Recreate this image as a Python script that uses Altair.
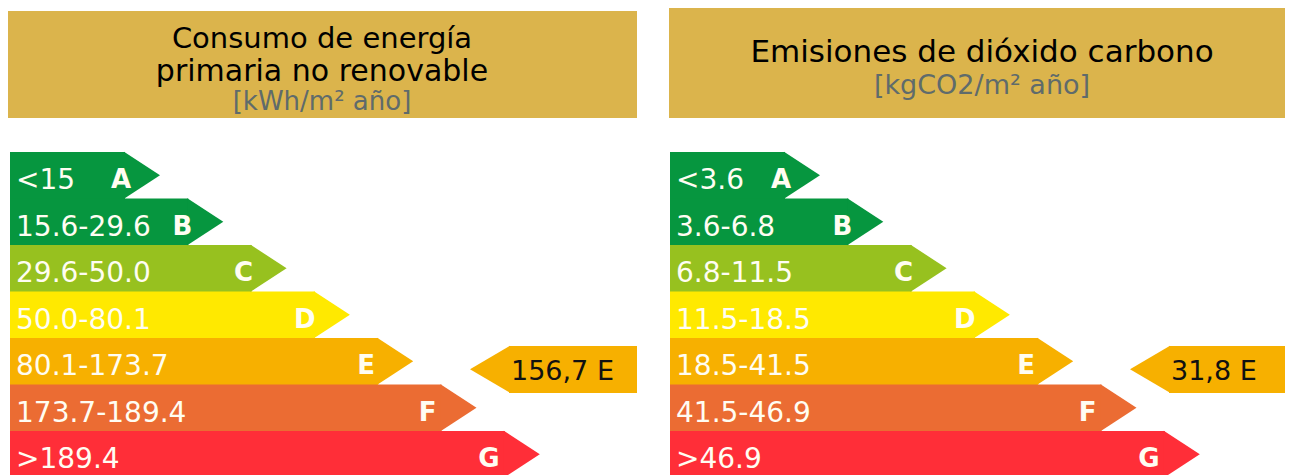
import altair as alt
import pandas as pd

# ---------------- data ----------------
classes = ["A", "B", "C", "D", "E", "F", "G"]
class_colors = ["#06963f", "#06963f", "#97c11f", "#ffe900", "#f7b000", "#eb6c33", "#ff2e38"]
energy_ranges = ["<15", "15.6-29.6", "29.6-50.0", "50.0-80.1", "80.1-173.7", "173.7-189.4", ">189.4"]
co2_ranges = ["<3.6", "3.6-6.8", "6.8-11.5", "11.5-18.5", "18.5-41.5", "41.5-46.9", ">46.9"]
panel_title_lines = [["Consumo de energía", "primaria no renovable"], ["Emisiones de dióxido carbono"]]
panel_units = ["[kWh/m² año]", "[kgCO2/m² año]"]
rating_values = ["156,7", "31,8"]
rating_classes = ["E", "E"]

FONT = "DejaVu Sans"
W, H = 1277, 467

rows = []
for p, ranges in enumerate([energy_ranges, co2_ranges]):
    for r, (c, col, rg) in enumerate(zip(classes, class_colors, ranges)):
        rows.append({"panel": p, "rank": r, "cls": c, "color": col, "label": rg})
df = pd.DataFrame(rows)

ind_rows = []
for p, (v, c) in enumerate(zip(rating_values, rating_classes)):
    ind_rows.append({"panel": p, "rank": classes.index(c), "text": f"{v} {c}",
                     "color": class_colors[classes.index(c)]})
df_ind = pd.DataFrame(ind_rows)

xs = alt.Scale(domain=[0, W], range=[0, W], nice=False, zero=False)
ys = alt.Scale(domain=[0, H], range=[0, H], nice=False, zero=False)

ROW0, ROWH = 144, 46.5

base = alt.Chart(df).transform_calculate(
    x0="datum.panel * 660 + 2",
    top=f"{ROW0} + datum.rank * {ROWH}",
    bot=f"{ROW0} + (datum.rank + 1) * {ROWH} + 0.5",
    mid=f"{ROW0} + (datum.rank + 0.5) * {ROWH}",
    xend="datum.panel * 660 + 2 + 115 + datum.rank * 63.3",
    lx="datum.panel * 660 + 2 + 111 + datum.rank * 61.3",
    tx="datum.panel * 660 + 2 + 6",
)

bars = base.mark_rect().encode(
    x=alt.X("x0:Q", scale=xs, axis=None),
    x2="xend:Q",
    y=alt.Y("top:Q", scale=ys, axis=None),
    y2="bot:Q",
    color=alt.Color("color:N", scale=None),
)

tips = base.mark_point(
    shape="M-1,-23.5L35,0L-1,23.5Z", size=4, filled=True, opacity=1, strokeWidth=0
).encode(
    x=alt.X("xend:Q", scale=xs, axis=None),
    y=alt.Y("mid:Q", scale=ys, axis=None),
    color=alt.Color("color:N", scale=None),
)

range_text = base.mark_text(
    align="left", baseline="alphabetic", font=FONT, fontSize=28, color="#fffdf2", dy=14
).encode(
    x=alt.X("tx:Q", scale=xs, axis=None),
    y=alt.Y("mid:Q", scale=ys, axis=None),
    text="label:N",
)

letter_text = base.mark_text(
    align="center", baseline="alphabetic", font=FONT, fontSize=26, fontWeight="bold",
    color="#fffdf2", dy=13
).encode(
    x=alt.X("lx:Q", scale=xs, axis=None),
    y=alt.Y("mid:Q", scale=ys, axis=None),
    text="cls:N",
)

ind_base = alt.Chart(df_ind).transform_calculate(
    rl="datum.panel * 660 + 2 + 499",
    rr="datum.panel == 0 ? 629 : 1300",
    tip="datum.panel * 660 + 2 + 499",
    top=f"{ROW0} + datum.rank * {ROWH} + 8",
    bot=f"{ROW0} + (datum.rank + 1) * {ROWH} + 8.5",
    mid=f"{ROW0} + (datum.rank + 0.5) * {ROWH} + 8",
)

ind_rect = ind_base.mark_rect().encode(
    x=alt.X("rl:Q", scale=xs, axis=None),
    x2="rr:Q",
    y=alt.Y("top:Q", scale=ys, axis=None),
    y2="bot:Q",
    color=alt.Color("color:N", scale=None),
)
ind_tip = ind_base.mark_point(
    shape="M1,-23.5L-39,0L1,23.5Z", size=4, filled=True, opacity=1, strokeWidth=0
).encode(
    x=alt.X("tip:Q", scale=xs, axis=None),
    y=alt.Y("mid:Q", scale=ys, axis=None),
    color=alt.Color("color:N", scale=None),
)
ind_text = ind_base.mark_text(
    align="left", baseline="alphabetic", font=FONT, fontSize=27, color="#111111", dx=2, dy=11
).encode(
    x=alt.X("rl:Q", scale=xs, axis=None),
    y=alt.Y("mid:Q", scale=ys, axis=None),
    text="text:N",
)

# ---------------- headers ----------------
HDR = "#dbb44c"
dummy = pd.DataFrame({"k": [0]})
hdr_left = alt.Chart(dummy).mark_rect(color=HDR).encode(
    x=alt.value(-1), x2=alt.value(629), y=alt.value(3), y2=alt.value(110))
hdr_right = alt.Chart(dummy).mark_rect(color=HDR).encode(
    x=alt.value(661), x2=alt.value(W), y=alt.value(-1), y2=alt.value(110))

def txt(s, x, y, size, color):
    return alt.Chart(dummy).mark_text(
        text=s, align="center", baseline="alphabetic", font=FONT, fontSize=size, color=color
    ).encode(x=alt.value(x), y=alt.value(y))

titles = [
    txt(panel_title_lines[0][0], 314, 40, 29, "#000000"),
    txt(panel_title_lines[0][1], 314, 73, 30, "#000000"),
    txt(panel_units[0], 314, 102, 26, "#5f6b6b"),
    txt(panel_title_lines[1][0], 974, 54, 31, "#000000"),
    txt(panel_units[1], 974, 86, 27, "#5f6b6b"),
]

chart = alt.layer(
    hdr_left, hdr_right, *titles,
    bars, tips, range_text, letter_text,
    ind_rect, ind_tip, ind_text,
).properties(
    width=W, height=H, padding=0, autosize=alt.AutoSizeParams(type="none"),
    background="white",
).configure_view(stroke=None)

chart.save("out.html", embed_options={"renderer": "svg", "actions": False})
